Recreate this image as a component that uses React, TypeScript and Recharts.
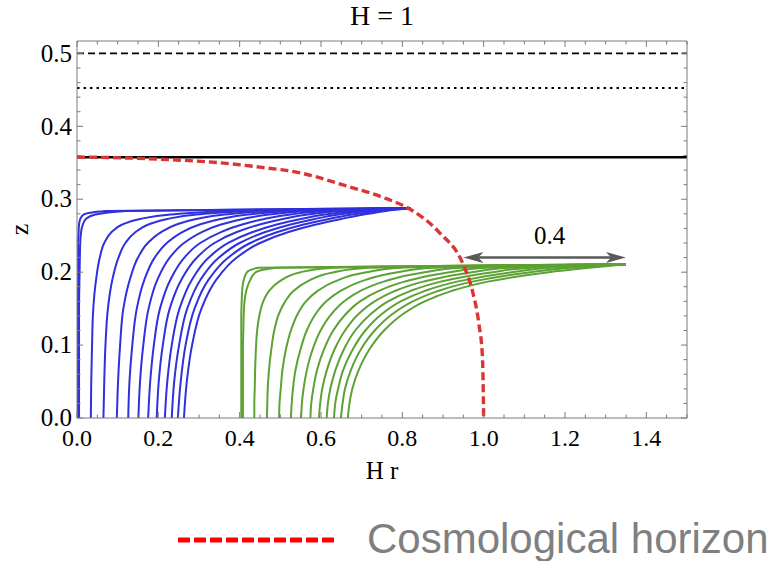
import React from 'react';
import { LineChart, Line, XAxis, YAxis, ReferenceLine } from 'recharts';

// axis ticks (minor + major); majors get labels
const X_TICKS = [
  0, 0.05, 0.1, 0.15, 0.2, 0.25, 0.3, 0.35, 0.4, 0.45, 0.5, 0.55, 0.6, 0.65, 0.7, 0.75,
  0.8, 0.85, 0.9, 0.95, 1.0, 1.05, 1.1, 1.15, 1.2, 1.25, 1.3, 1.35, 1.4, 1.45, 1.5,
];
const Y_TICKS = [
  0, 0.02, 0.04, 0.06, 0.08, 0.1, 0.12, 0.14, 0.16, 0.18, 0.2, 0.22, 0.24, 0.26, 0.28,
  0.3, 0.32, 0.34, 0.36, 0.38, 0.4, 0.42, 0.44, 0.46, 0.48, 0.5,
];

// horizontal reference levels
const Z_DASHED = 0.5;
const Z_DOTTED = 0.4525;
const Z_SOLID = 0.3575;

// cosmological horizon
const HORIZON_R = [0, 0.2, 0.35, 0.45, 0.55, 0.67, 0.75, 0.82, 0.89, 0.95, 0.972, 0.988, 0.997, 1.0];
const HORIZON_Z = [0.358, 0.355, 0.35, 0.344, 0.336, 0.317, 0.303, 0.286, 0.255, 0.21, 0.175, 0.13, 0.084, 0];

// blue family: r of each curve at the shared z levels
const BLUE_Z = [0, 0.05, 0.1, 0.15, 0.19, 0.22, 0.24, 0.255, 0.265, 0.273, 0.279, 0.284, 0.288];
const BLUE_R = [
  [0.002, 0.002, 0.002, 0.002, 0.003, 0.003, 0.003, 0.004, 0.005, 0.008, 0.016, 0.07, 0.82],
  [0.005, 0.005, 0.005, 0.005, 0.006, 0.007, 0.008, 0.01, 0.014, 0.022, 0.045, 0.12, 0.82],
  [0.034, 0.035, 0.037, 0.04, 0.047, 0.056, 0.067, 0.085, 0.11, 0.155, 0.23, 0.38, 0.82],
  [0.065, 0.067, 0.07, 0.076, 0.087, 0.102, 0.119, 0.144, 0.174, 0.222, 0.294, 0.431, 0.82],
  [0.098, 0.101, 0.106, 0.114, 0.13, 0.15, 0.174, 0.207, 0.243, 0.293, 0.363, 0.486, 0.82],
  [0.126, 0.129, 0.136, 0.147, 0.166, 0.191, 0.221, 0.259, 0.3, 0.353, 0.42, 0.532, 0.82],
  [0.151, 0.155, 0.163, 0.176, 0.198, 0.228, 0.263, 0.307, 0.352, 0.408, 0.472, 0.574, 0.82],
  [0.175, 0.18, 0.189, 0.204, 0.23, 0.264, 0.303, 0.354, 0.404, 0.461, 0.525, 0.616, 0.82],
  [0.196, 0.201, 0.211, 0.228, 0.257, 0.295, 0.338, 0.393, 0.447, 0.506, 0.567, 0.65, 0.82],
  [0.216, 0.222, 0.233, 0.252, 0.283, 0.324, 0.372, 0.432, 0.489, 0.55, 0.61, 0.684, 0.82],
  [0.233, 0.239, 0.251, 0.271, 0.304, 0.349, 0.4, 0.463, 0.523, 0.585, 0.643, 0.711, 0.82],
  [0.248, 0.255, 0.267, 0.289, 0.324, 0.372, 0.426, 0.493, 0.555, 0.619, 0.677, 0.737, 0.82],
  [0.263, 0.27, 0.283, 0.306, 0.343, 0.393, 0.45, 0.52, 0.585, 0.65, 0.705, 0.76, 0.82],
];

// green family: r of each curve at the shared z levels
const GREEN_Z = [0, 0.02, 0.04, 0.065, 0.095, 0.12, 0.142, 0.16, 0.174, 0.187, 0.2, 0.206, 0.211];
const GREEN_R = [
  [0.404, 0.404, 0.404, 0.404, 0.404, 0.404, 0.404, 0.405, 0.406, 0.409, 0.418, 0.445, 1.35],
  [0.408, 0.408, 0.408, 0.408, 0.408, 0.409, 0.41, 0.412, 0.416, 0.424, 0.44, 0.49, 1.35],
  [0.436, 0.436, 0.437, 0.438, 0.44, 0.443, 0.449, 0.458, 0.472, 0.497, 0.55, 0.63, 1.35],
  [0.467, 0.468, 0.469, 0.472, 0.478, 0.485, 0.496, 0.512, 0.532, 0.566, 0.632, 0.715, 1.35],
  [0.497, 0.498, 0.501, 0.505, 0.514, 0.526, 0.542, 0.563, 0.591, 0.633, 0.712, 0.797, 1.35],
  [0.526, 0.528, 0.531, 0.537, 0.55, 0.565, 0.586, 0.613, 0.647, 0.697, 0.788, 0.876, 1.35],
  [0.551, 0.553, 0.557, 0.565, 0.58, 0.599, 0.625, 0.657, 0.696, 0.754, 0.855, 0.945, 1.35],
  [0.574, 0.576, 0.581, 0.59, 0.608, 0.63, 0.66, 0.696, 0.741, 0.805, 0.916, 1.008, 1.35],
  [0.595, 0.598, 0.603, 0.614, 0.634, 0.659, 0.691, 0.732, 0.781, 0.851, 0.971, 1.065, 1.35],
  [0.614, 0.617, 0.623, 0.635, 0.657, 0.684, 0.721, 0.765, 0.819, 0.894, 1.022, 1.118, 1.35],
  [0.632, 0.635, 0.642, 0.654, 0.679, 0.709, 0.748, 0.796, 0.854, 0.934, 1.07, 1.167, 1.35],
  [0.649, 0.653, 0.659, 0.673, 0.699, 0.732, 0.774, 0.826, 0.887, 0.972, 1.115, 1.213, 1.35],
  [0.666, 0.67, 0.677, 0.692, 0.72, 0.755, 0.8, 0.855, 0.92, 1.01, 1.16, 1.26, 1.35],
];

// distance marker between horizon and the green tip
const ARROW_END = 1.35;
const ARROW_GAP = 0.4;
const ARROW_Z = 0.22;

const SERIF = '"Liberation Serif", "Times New Roman", serif';
const FRAME = '#7a7a7a';
const BLUE = '#3030dc';
const GREEN = '#5ca234';
const RED = '#dc3434';
const ARROW = '#595959';

const toPoints = (rs: number[], zs: number[]) => rs.map((r, i) => ({ r, z: zs[i] }));
const horizon = toPoints(HORIZON_R, HORIZON_Z);
const blueCurves = BLUE_R.map((rs) => toPoints(rs, BLUE_Z));
const greenCurves = GREEN_R.map((rs) => toPoints(rs, GREEN_Z));

const isMajor = (v: number, per: number) => Math.abs(v * per - Math.round(v * per)) < 1e-6;

const BottomTick = (props: any) => {
  const { x, y, payload } = props;
  const major = isMajor(payload.value, 5);
  return (
    <g>
      <line x1={x} y1={y} x2={x} y2={y - (major ? 6 : 3.5)} stroke={FRAME} />
      {major && (
        <text x={x} y={y + 28} textAnchor="middle" fill="#000" style={{ fontFamily: SERIF, fontSize: 24 }}>
          {payload.value.toFixed(1)}
        </text>
      )}
    </g>
  );
};

const TopTick = (props: any) => {
  const { x, y, payload } = props;
  const major = isMajor(payload.value, 5);
  return <line x1={x} y1={y} x2={x} y2={y + (major ? 6 : 3.5)} stroke={FRAME} />;
};

const LeftTick = (props: any) => {
  const { x, y, payload } = props;
  const major = isMajor(payload.value, 10);
  return (
    <g>
      <line x1={x} y1={y} x2={x + (major ? 6 : 3.5)} y2={y} stroke={FRAME} />
      {major && (
        <text x={x - 5} y={y} dy="0.33em" textAnchor="end" fill="#000" style={{ fontFamily: SERIF, fontSize: 25 }}>
          {payload.value.toFixed(1)}
        </text>
      )}
    </g>
  );
};

const RightTick = (props: any) => {
  const { x, y, payload } = props;
  const major = isMajor(payload.value, 10);
  return <line x1={x} y1={y} x2={x - (major ? 6 : 3.5)} y2={y} stroke={FRAME} />;
};

// double-headed arrow with its length written above
const GapArrow = (props: any) => {
  const { x1, y1, x2 } = props;
  const head = 20;
  const half = 5.5;
  return (
    <g>
      <line x1={x1 + head * 0.7} y1={y1} x2={x2 - head * 0.7} y2={y1} stroke={ARROW} strokeWidth={2.6} />
      <polygon
        points={`${x1},${y1} ${x1 + head},${y1 - half} ${x1 + head * 0.75},${y1} ${x1 + head},${y1 + half}`}
        fill={ARROW}
      />
      <polygon
        points={`${x2},${y1} ${x2 - head},${y1 - half} ${x2 - head * 0.75},${y1} ${x2 - head},${y1 + half}`}
        fill={ARROW}
      />
      <text x={(x1 + x2) / 2 + 5} y={y1 - 14} textAnchor="middle" fill="#000" style={{ fontFamily: SERIF, fontSize: 25 }}>
        {ARROW_GAP.toFixed(1)}
      </text>
    </g>
  );
};

export default function App() {
  return (
    <div style={{ position: 'absolute', left: 0, top: 0, width: 777, height: 561, background: '#fff' }}>
      <LineChart width={777} height={561} margin={{ top: 40, right: 89, bottom: 73, left: 17 }}>
        <XAxis
          dataKey="r"
          type="number"
          domain={[0, 1.5]}
          allowDataOverflow
          ticks={X_TICKS}
          interval={0}
          height={70}
          tickSize={0}
          tickMargin={0}
          tickLine={false}
          tick={BottomTick}
          axisLine={{ stroke: FRAME }}
          label={{
            value: 'H r',
            position: 'insideBottom',
            offset: 9,
            fill: '#000',
            style: { fontFamily: SERIF, fontSize: 25 },
          }}
        />
        <XAxis
          xAxisId="top"
          orientation="top"
          dataKey="r"
          type="number"
          domain={[0, 1.5]}
          allowDataOverflow
          ticks={X_TICKS}
          interval={0}
          height={1}
          tickSize={0}
          tickMargin={0}
          tickLine={false}
          tick={TopTick}
          axisLine={{ stroke: FRAME }}
          label={{
            value: 'H = 1',
            position: 'top',
            offset: 15,
            fill: '#000',
            style: { fontFamily: SERIF, fontSize: 28 },
          }}
        />
        <YAxis
          type="number"
          domain={[0, 0.517]}
          allowDataOverflow
          ticks={Y_TICKS}
          interval={0}
          width={60}
          tickSize={0}
          tickMargin={0}
          tickLine={false}
          tick={LeftTick}
          axisLine={{ stroke: FRAME }}
          label={{
            value: 'z',
            angle: -90,
            position: 'insideLeft',
            offset: 2,
            fill: '#000',
            style: { textAnchor: 'middle', fontFamily: SERIF, fontSize: 26 },
          }}
        />
        <YAxis
          yAxisId="right"
          orientation="right"
          type="number"
          domain={[0, 0.517]}
          allowDataOverflow
          ticks={Y_TICKS}
          interval={0}
          width={1}
          tickSize={0}
          tickMargin={0}
          tickLine={false}
          tick={RightTick}
          axisLine={{ stroke: FRAME }}
        />

        <ReferenceLine y={Z_DASHED} stroke="#000" strokeWidth={1.9} strokeDasharray="7 4" />
        <ReferenceLine y={Z_DOTTED} stroke="#000" strokeWidth={1.9} strokeDasharray="2.5 4" />
        <ReferenceLine y={Z_SOLID} stroke="#000" strokeWidth={2.4} />

        {blueCurves.map((pts, i) => (
          <Line
            key={`blue-${i}`}
            data={pts}
            dataKey="z"
            type="monotoneY"
            stroke={BLUE}
            strokeWidth={2}
            dot={false}
            activeDot={false}
            isAnimationActive={false}
          />
        ))}
        {greenCurves.map((pts, i) => (
          <Line
            key={`green-${i}`}
            data={pts}
            dataKey="z"
            type="monotoneY"
            stroke={GREEN}
            strokeWidth={2}
            dot={false}
            activeDot={false}
            isAnimationActive={false}
          />
        ))}
        {/* horizon is tied to the top/right axes too, same domains as bottom/left */}
        <Line
          xAxisId="top"
          yAxisId="right"
          data={horizon}
          dataKey="z"
          type="monotone"
          stroke={RED}
          strokeWidth={3.4}
          strokeDasharray="8 4"
          dot={false}
          activeDot={false}
          isAnimationActive={false}
        />

        <ReferenceLine
          segment={[
            { x: ARROW_END - ARROW_GAP, y: ARROW_Z },
            { x: ARROW_END, y: ARROW_Z },
          ]}
          shape={GapArrow}
        />
      </LineChart>

      {/* legend entry for the horizon curve */}
      <svg width={777} height={561} style={{ position: 'absolute', left: 0, top: 0, pointerEvents: 'none' }}>
        <line x1={178} y1={540} x2={338} y2={540} stroke="#ff0000" strokeWidth={5} strokeDasharray="12 4" />
        <text x={367} y={553} fill="#7f7f7f" style={{ fontFamily: '"Liberation Sans", Arial, sans-serif', fontSize: 42 }}>
          Cosmological horizon
        </text>
      </svg>
    </div>
  );
}
